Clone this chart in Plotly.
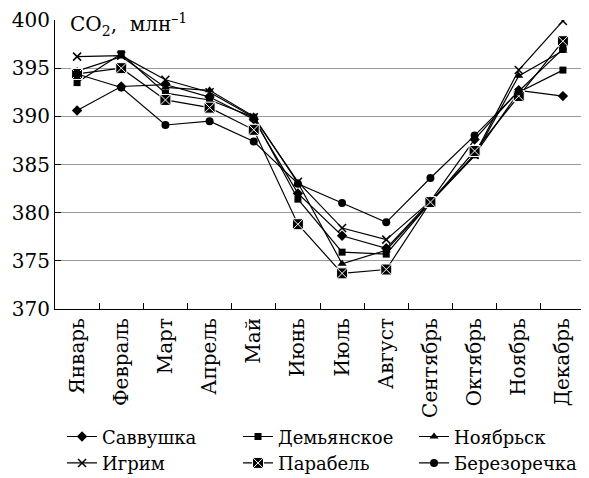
import plotly.graph_objects as go

MONTHS = ["Январь", "Февраль", "Март", "Апрель", "Май", "Июнь",
          "Июль", "Август", "Сентябрь", "Октябрь", "Ноябрь", "Декабрь"]

SAVVUSHKA = [390.6, 393.1, 393.3, 392.0, 389.7, 382.0, 377.6, 376.3, 381.2, 387.6, 392.7, 392.1]
DEMYANSKOE = [393.5, 396.5, 392.4, 391.7, 389.9, 381.4, 375.9, 375.7, 381.1, 386.0, 392.5, 394.8]
NOYABRSK = [394.7, 396.2, 393.0, 392.7, 390.0, 383.1, 374.7, 376.1, 381.1, 385.9, 394.2, 396.8]
IGRIM = [396.2, 396.3, 393.8, 392.5, 389.9, 383.2, 378.4, 377.2, 381.2, 386.0, 394.8, 399.9]
PARABEL = [394.4, 395.0, 391.7, 390.9, 388.6, 378.8, 373.7, 374.1, 381.1, 386.4, 392.1, 397.8]
BEREZORECHKA = [394.4, 393.0, 389.1, 389.5, 387.4, 383.0, 381.0, 379.0, 383.6, 388.0, 392.6, 397.0]

Y_TICKS = [370, 375, 380, 385, 390, 395, 400]
Y_GRID = [375, 380, 385, 390, 395]

_FONT = "DejaVu Serif"
_INK = "black"

SERIES = [
    ("Саввушка", SAVVUSHKA, dict(symbol="diamond", size=8, color=_INK)),
    ("Демьянское", DEMYANSKOE, dict(symbol="square", size=7, color=_INK)),
    ("Ноябрьск", NOYABRSK, dict(symbol="triangle-up", size=8, color=_INK)),
    ("Игрим", IGRIM, dict(symbol="x-thin", size=8, color=_INK, line=dict(color=_INK, width=1.5))),
    ("Парабель", PARABEL, dict(symbol="square-x", size=11, color=_INK, line=dict(color="white", width=1))),
    ("Березоречка", BEREZORECHKA, dict(symbol="circle", size=8, color=_INK)),
]

fig = go.Figure()
for name, vals, marker in SERIES:
    fig.add_scatter(
        x=MONTHS, y=vals, name=name, mode="lines+markers",
        line=dict(color=_INK, width=1.2), marker=marker,
    )

fig.add_annotation(
    text="CO<sub>2</sub>,  млн<sup>–1</sup>",
    xref="paper", yref="paper", x=0.025, y=0.985,
    xanchor="left", yanchor="middle", showarrow=False,
    font=dict(family=_FONT, size=20, color=_INK),
)

# page body has an 8px margin, so the figure is 8px smaller than the window
fig.update_layout(
    width=581, height=470,
    paper_bgcolor="white", plot_bgcolor="white",
    font=dict(family=_FONT, size=20, color=_INK),
    margin=dict(l=47, r=4, t=12, b=169),
    xaxis=dict(
        type="category", tickangle=-90, tickson="boundaries",
        ticks="inside", ticklen=6, tickcolor=_INK,
        showline=True, linecolor=_INK, linewidth=1, showgrid=False,
        range=[-0.5, 11.5], automargin=False,
    ),
    yaxis=dict(
        range=[370, 400], tickvals=Y_TICKS, ticks="inside", ticklen=6,
        tickcolor=_INK, showline=True, linecolor=_INK, linewidth=1,
        showgrid=False, zeroline=False, automargin=False,
        minor=dict(tickvals=Y_GRID, showgrid=True, gridcolor="#9a9a9a",
                   gridwidth=1, ticks=""),
    ),
    showlegend=True,
    legend=dict(
        orientation="h", xref="container", yref="container",
        x=0.093, y=0.127, xanchor="left", yanchor="top",
        entrywidth=131, entrywidthmode="pixels", itemwidth=30,
        font=dict(family=_FONT, size=18, color=_INK),
        bgcolor="rgba(0,0,0,0)",
    ),
)

fig.write_html("out.html")
